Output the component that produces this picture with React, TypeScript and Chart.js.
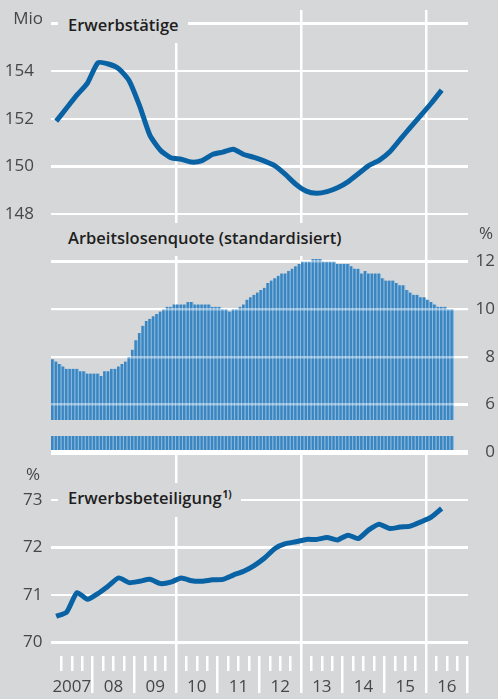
import React, { useEffect, useRef, useState } from 'react';
import { Chart, registerables } from 'chart.js';

Chart.register(...registerables);

const BG = '#d6d7d9';
const LINE = '#0862a4';
const BAR = '#3b86c1';
const BAR_LIGHT = '#8cbce0';
const TEXT = '#474747';
const TITLE = '#1e1e1e';
const FONT = '"Open Sans", "Noto Sans", sans-serif';

// Year labels (centred in each year on the x axis)
const yearLabels = ['2007', '08', '09', '10', '11', '12', '13', '14', '15', '16'];

// Erwerbstätige, Mio, quarterly 2007 Q1 – 2016 Q2
const employment = [
  151.9, 152.45, 153.0, 153.5, 154.35, 154.3, 154.1, 153.6, 152.55, 151.3,
  150.68, 150.36, 150.3, 150.18, 150.24, 150.5, 150.6, 150.72, 150.5, 150.38,
  150.22, 150.02, 149.66, 149.25, 148.96, 148.87, 148.94, 149.1, 149.35, 149.69,
  150.03, 150.25, 150.6, 151.12, 151.64, 152.14, 152.65, 153.2,
];

// Arbeitslosenquote (standardisiert), %, monthly Jan 2007 – Aug 2016
const unemployment = [
  7.9, 7.8, 7.7, 7.6, 7.5, 7.5, 7.5, 7.5, 7.4, 7.4, 7.3, 7.3,
  7.3, 7.3, 7.2, 7.4, 7.4, 7.5, 7.5, 7.6, 7.7, 7.8, 8.0, 8.3,
  8.7, 9.0, 9.3, 9.5, 9.6, 9.7, 9.8, 9.9, 10.0, 10.1, 10.1, 10.2,
  10.2, 10.2, 10.2, 10.3, 10.3, 10.2, 10.2, 10.2, 10.2, 10.2, 10.1, 10.1,
  10.1, 10.0, 10.0, 9.9, 10.0, 10.0, 10.1, 10.2, 10.4, 10.5, 10.6, 10.7,
  10.8, 10.9, 11.1, 11.2, 11.3, 11.4, 11.5, 11.5, 11.6, 11.7, 11.8, 11.9,
  12.0, 12.0, 12.0, 12.1, 12.1, 12.1, 12.0, 12.0, 12.0, 12.0, 11.9, 11.9,
  11.9, 11.9, 11.8, 11.7, 11.7, 11.5, 11.6, 11.5, 11.5, 11.5, 11.5, 11.3,
  11.2, 11.2, 11.2, 11.1, 11.0, 11.0, 10.8, 10.7, 10.6, 10.6, 10.5, 10.5,
  10.4, 10.3, 10.2, 10.1, 10.1, 10.1, 10.0, 10.0,
];

// Erwerbsbeteiligung, %, quarterly 2007 Q1 – 2016 Q2
const participation = [
  70.55, 70.64, 71.05, 70.91, 71.03, 71.19, 71.36, 71.26, 71.29, 71.33,
  71.24, 71.27, 71.36, 71.3, 71.29, 71.32, 71.33, 71.42, 71.5, 71.62,
  71.78, 71.98, 72.08, 72.12, 72.17, 72.17, 72.21, 72.16, 72.26, 72.19,
  72.37, 72.49, 72.4, 72.43, 72.45, 72.54, 72.64, 72.82,
];

// ticks and grid values
const employmentTicks = [148, 150, 152, 154];
const employmentGrid = [148, 150, 152, 154, 156];
const unemploymentBase = 4; // bars start here; the axis is broken below it (label "0")
const unemploymentTicks = [4, 6, 8, 10, 12];
const unemploymentGrid = [6, 8, 10, 12];
const participationTicks = [70, 71, 72, 73];
const breakHigh = 5.35;
const breakLow = 4.68;

// plot area
const AREA_TOP = 10;
const AREA_BOTTOM = 656;

function rangeFor(vHigh: number, pHigh: number, vLow: number, pLow: number) {
  const k = (vHigh - vLow) / (pLow - pHigh);
  return { min: vLow - (AREA_BOTTOM - pLow) * k, max: vHigh + (pHigh - AREA_TOP) * k };
}

const topRange = rangeFor(156, 23.5, 148, 214);
const midRange = rangeFor(12, 261.5, unemploymentBase, 452.2);
const botRange = rangeFor(73, 500, 70, 642.5);

const quarterX = (k: number) => 1.5 + 3 * k;
const monthX = (i: number) => i + 0.5;

const tickFont = { family: FONT, size: 17 };
const transparent = 'rgba(0,0,0,0)';

const fitWidth = (w: number) => (s: any) => {
  s.width = w;
  s.paddingTop = 0;
  s.paddingBottom = 0;
  s.paddingLeft = 0;
  s.paddingRight = 0;
};

function fixedTicks(values: number[]) {
  return (s: any) => { s.ticks = values.map((v) => ({ value: v })); };
}

type Geo = { left: number; right: number; lines: number[]; base: number; breakTop: number; breakBottom: number };

export default function App() {
  const ref = useRef<HTMLCanvasElement>(null);
  const [geo, setGeo] = useState<Geo | null>(null);

  useEffect(() => {
    if (!ref.current) return;
    const chart = new Chart(ref.current, {
      type: 'line',
      data: {
        datasets: [
          {
            type: 'line',
            data: employment.map((v, k) => ({ x: quarterX(k), y: v })),
            yAxisID: 'yTop',
            borderColor: LINE,
            borderWidth: 5,
            pointRadius: 0,
            tension: 0.2,
            borderJoinStyle: 'round',
          },
          {
            type: 'line',
            data: participation.map((v, k) => ({ x: quarterX(k), y: v })),
            yAxisID: 'yBot',
            borderColor: LINE,
            borderWidth: 5,
            pointRadius: 0,
            tension: 0.2,
            borderJoinStyle: 'round',
          },
          {
            type: 'bar',
            data: unemployment.map((v, i) => ({ x: monthX(i), y: v })),
            yAxisID: 'yMid',
            base: unemploymentBase,
            backgroundColor: BAR,
            borderColor: BAR_LIGHT,
            borderWidth: { left: 0, top: 0, bottom: 0, right: 1.3 },
            borderSkipped: false,
            barPercentage: 1,
            categoryPercentage: 1,
            grouped: false,
          },
        ] as any,
      },
      options: {
        animation: false,
        responsive: false,
        events: [],
        layout: { padding: { top: AREA_TOP, left: 0, right: 3, bottom: 0 } },
        plugins: { legend: { display: false }, tooltip: { enabled: false } },
        scales: {
          x: {
            type: 'linear',
            position: 'bottom',
            offset: false,
            min: 0,
            max: 120,
            afterFit: (s: any) => {
              s.height = 699 - AREA_BOTTOM;
              s.paddingLeft = 0;
              s.paddingRight = 0;
            },
            afterBuildTicks: (s: any) => {
              s.ticks = Array.from({ length: 41 }, (_, i) => ({ value: i * 3 }));
            },
            ticks: {
              autoSkip: false,
              maxRotation: 0,
              padding: -16,
              color: TEXT,
              font: tickFont,
              callback: (v: any) => {
                const m = Number(v);
                return (m - 6) % 12 === 0 ? yearLabels[(m - 6) / 12] : '';
              },
            },
            grid: {
              offset: false,
              color: (c: any) => ([36, 72, 108].includes(c.tick?.value) ? '#ffffff' : transparent),
              lineWidth: 2.5,
              tickLength: 37,
              tickWidth: 2.5,
              tickColor: (c: any) => (c.tick?.value === 0 ? transparent : '#ffffff'),
              tickBorderDash: (c: any) => (c.tick && c.tick.value % 12 === 0 ? [] : [15, 100]),
            },
            border: { display: false },
          },
          yTop: {
            type: 'linear',
            position: 'left',
            weight: 2,
            min: topRange.min,
            max: topRange.max,
            afterFit: fitWidth(51),
            afterBuildTicks: fixedTicks(employmentTicks),
            ticks: { autoSkip: false, padding: 9, color: TEXT, font: tickFont },
            grid: { display: false },
            border: { display: false },
          },
          yBot: {
            type: 'linear',
            position: 'left',
            weight: 1,
            min: botRange.min,
            max: botRange.max,
            afterFit: fitWidth(0),
            afterBuildTicks: fixedTicks(participationTicks),
            ticks: { autoSkip: false, mirror: true, padding: -28, color: TEXT, font: tickFont },
            grid: { display: false },
            border: { display: false },
          },
          yMid: {
            type: 'linear',
            position: 'right',
            weight: 1,
            min: midRange.min,
            max: midRange.max,
            afterFit: fitWidth(27.3),
            afterBuildTicks: fixedTicks(unemploymentTicks),
            ticks: {
              autoSkip: false,
              padding: 0,
              crossAlign: 'far',
              color: TEXT,
              font: tickFont,
              callback: (v: any) => (Number(v) === unemploymentBase ? '0' : String(v)),
            },
            grid: { display: false },
            border: { display: false },
          },
          yMidOver: {
            type: 'linear',
            position: 'right',
            weight: 0,
            min: midRange.min,
            max: midRange.max,
            afterFit: fitWidth(0),
            afterBuildTicks: fixedTicks(unemploymentGrid),
            ticks: { display: false },
            grid: { z: 1, color: 'rgba(255,255,255,0.45)', lineWidth: 2.5, drawTicks: false },
            border: { display: false },
          },
        },
      } as any,
    });
    const ca = chart.chartArea;
    const s: any = chart.scales;
    setGeo({
      left: ca.left,
      right: ca.right,
      lines: [
        ...employmentGrid.map((v) => s.yTop.getPixelForValue(v)),
        ...unemploymentGrid.map((v) => s.yMid.getPixelForValue(v)),
        ...participationTicks.map((v) => s.yBot.getPixelForValue(v)),
      ],
      base: s.yMid.getPixelForValue(unemploymentBase),
      breakTop: s.yMid.getPixelForValue(breakHigh),
      breakBottom: s.yMid.getPixelForValue(breakLow),
    });
    return () => chart.destroy();
  }, []);

  const titleStyle = (top: number, height: number): React.CSSProperties => ({
    position: 'absolute',
    left: 58,
    top,
    height,
    lineHeight: `${height}px`,
    padding: '0 9px 0 10px',
    background: BG,
    color: TITLE,
    font: `600 16.5px ${FONT}`,
    whiteSpace: 'nowrap',
    zIndex: 3,
  });
  const unitStyle = (right: number, top: number): React.CSSProperties => ({
    position: 'absolute',
    right: 498 - right,
    top,
    height: 20,
    lineHeight: '20px',
    color: TEXT,
    font: `17px ${FONT}`,
    whiteSpace: 'nowrap',
    zIndex: 3,
  });
  const shift: React.CSSProperties = { position: 'relative', top: 3 };

  return (
    <div style={{ position: 'fixed', left: 0, top: 0, width: 498, height: 699, background: BG, overflow: 'hidden' }}>
      {/* horizontal grid lines at the scales' tick positions, behind the transparent canvas */}
      {geo &&
        geo.lines.map((y, i) => (
          <div
            key={i}
            style={{ position: 'absolute', left: geo.left, width: geo.right - geo.left, top: y - 1.25, height: 2.5, background: '#fff', zIndex: 0 }}
          />
        ))}
      <canvas ref={ref} width={498} height={699} style={{ display: 'block', position: 'relative', zIndex: 1 }} />
      {geo && (
        <>
          {/* axis break of the unemployment bars */}
          <div style={{ position: 'absolute', left: geo.left, width: geo.right - geo.left, top: geo.breakTop, height: geo.breakBottom - geo.breakTop, background: BG, zIndex: 2 }} />
          {/* base line of the bars */}
          <div style={{ position: 'absolute', left: geo.left, width: geo.right - geo.left, top: geo.base - 2.5, height: 5, background: '#fff', zIndex: 2 }} />
        </>
      )}
      <div style={titleStyle(10, 33)}><span style={shift}>Erwerbstätige</span></div>
      <div style={titleStyle(223, 33)}><span style={shift}>Arbeitslosenquote (standardisiert)</span></div>
      <div style={titleStyle(483, 34)}>
        <span style={shift}>
          Erwerbsbeteiligung
          <span style={{ fontSize: 10, fontWeight: 700, position: 'relative', top: -6, marginLeft: 1, lineHeight: 0 }}>1)</span>
        </span>
      </div>
      <div style={unitStyle(43, 6)}>Mio</div>
      <div style={unitStyle(40, 462)}>%</div>
      <div style={unitStyle(493, 221)}>%</div>
    </div>
  );
}
